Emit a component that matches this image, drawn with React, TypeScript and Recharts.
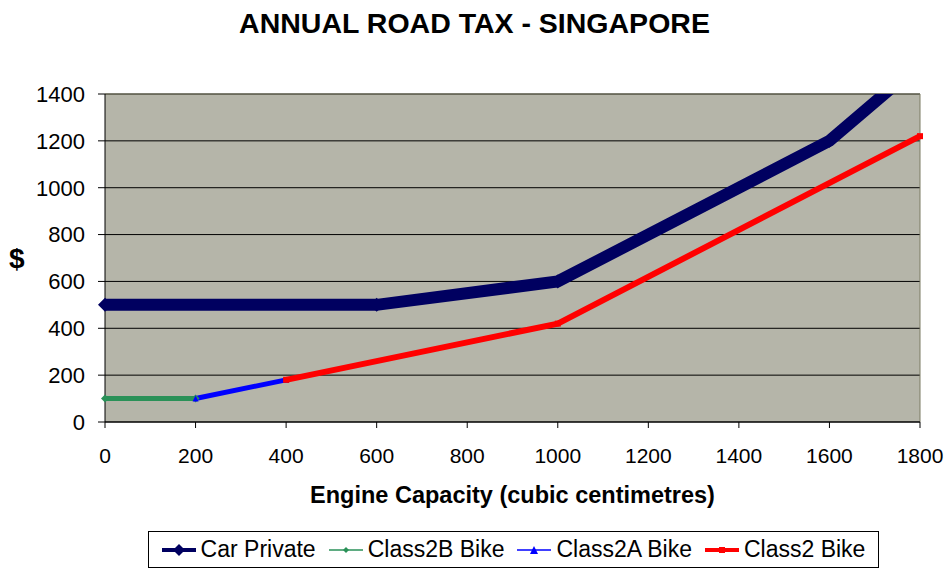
import React from 'react';
import { ComposedChart, Line, Scatter, XAxis, YAxis, CartesianGrid, ReferenceLine } from 'recharts';

// engine capacity (cc) and annual tax ($)
const carCc = [0, 600, 1000, 1600, 1800];
const carTax = [500, 500, 600, 1200, 1530];
const class2bCc = [0, 200];
const class2bTax = [100, 100];
const class2aCc = [200, 400];
const class2aTax = [100, 180];
const class2Cc = [400, 1000, 1800];
const class2Tax = [180, 420, 1220];

const xTicks = [0, 200, 400, 600, 800, 1000, 1200, 1400, 1600, 1800];
const yTicks = [0, 200, 400, 600, 800, 1000, 1200, 1400];

const FONT = '"Liberation Sans", Arial, sans-serif';
const NAVY = '#000060';
const GREEN = '#2A9158';
const BLUE = '#0000FF';
const RED = '#FF0000';
const PLOT_BG = '#B5B5A9';
const BORDER = '#7A7A62';

const toPoints = (xs: number[], ys: number[]) => xs.map((cc, i) => ({ cc, tax: ys[i] }));

const carData = toPoints(carCc, carTax);
const carMarkers = carData.filter((d) => d.tax <= 1400);
const class2bData = toPoints(class2bCc, class2bTax);
const class2aData = toPoints(class2aCc, class2aTax);
const class2Data = toPoints(class2Cc, class2Tax);

const diamond = (r: number, fill: string) => (props: any) => {
  const { cx, cy, key } = props;
  if (cx == null || cy == null) return <g key={key} />;
  return <polygon key={key} points={`${cx - r},${cy} ${cx},${cy - r} ${cx + r},${cy} ${cx},${cy + r}`} fill={fill} />;
};

const triangle = (r: number, fill: string) => (props: any) => {
  const { cx, cy, key } = props;
  if (cx == null || cy == null) return <g key={key} />;
  return <polygon key={key} points={`${cx - r},${cy + r} ${cx},${cy - r} ${cx + r},${cy + r}`} fill={fill} />;
};

const square = (r: number, fill: string) => (props: any) => {
  const { cx, cy, key } = props;
  if (cx == null || cy == null) return <g key={key} />;
  return <rect key={key} x={cx - r} y={cy - r} width={r * 2} height={r * 2} fill={fill} />;
};

const legendItems = [
  { name: 'Car Private', color: NAVY, width: 4, marker: 'diamond', size: 6 },
  { name: 'Class2B Bike', color: GREEN, width: 1.5, marker: 'diamond', size: 3 },
  { name: 'Class2A Bike', color: BLUE, width: 1.5, marker: 'triangle', size: 4 },
  { name: 'Class2 Bike', color: RED, width: 4, marker: 'square', size: 3 },
];

function LegendIcon({ color, width, marker, size }: { color: string; width: number; marker: string; size: number }) {
  const cx = 17;
  const cy = 10;
  return (
    <svg width={34} height={20} style={{ display: 'block' }}>
      <line x1={0} y1={cy} x2={34} y2={cy} stroke={color} strokeWidth={width} />
      {marker === 'diamond' && (
        <polygon points={`${cx - size},${cy} ${cx},${cy - size} ${cx + size},${cy} ${cx},${cy + size}`} fill={color} />
      )}
      {marker === 'triangle' && (
        <polygon points={`${cx - size},${cy + size} ${cx},${cy - size} ${cx + size},${cy + size}`} fill={color} />
      )}
      {marker === 'square' && <rect x={cx - size} y={cy - size} width={size * 2} height={size * 2} fill={color} />}
    </svg>
  );
}

export default function App() {
  return (
    <div style={{ position: 'absolute', left: 0, top: 0, width: 949, height: 578, background: '#fff', fontFamily: FONT }}>
      <div
        style={{
          position: 'absolute',
          left: 0,
          width: 949,
          top: 7,
          textAlign: 'center',
          fontSize: 28.5,
          fontWeight: 'bold',
          color: '#000',
        }}
      >
        ANNUAL ROAD TAX - SINGAPORE
      </div>

      <ComposedChart width={949} height={578} margin={{ top: 94, right: 29, bottom: 66, left: 0 }}>
        <CartesianGrid yAxisId="main" vertical={false} stroke="#000" fill={PLOT_BG} fillOpacity={1} horizontalValues={yTicks} />
        <XAxis
          dataKey="cc"
          type="number"
          domain={[0, 1800]}
          ticks={xTicks}
          interval={0}
          height={90}
          tickSize={6}
          tickMargin={20}
          axisLine={{ stroke: '#000' }}
          tickLine={{ stroke: '#000' }}
          tick={{ fill: '#000', fontSize: 21, fontFamily: FONT }}
          label={{
            value: 'Engine Capacity (cubic centimetres)',
            position: 'insideTop',
            offset: 64,
            fill: '#000',
            fontSize: 23.5,
            fontWeight: 'bold',
            fontFamily: FONT,
          }}
        />
        <YAxis
          yAxisId="main"
          type="number"
          domain={[0, 1400]}
          ticks={yTicks}
          interval={0}
          width={105}
          tickSize={7}
          tickMargin={13}
          axisLine={{ stroke: '#000' }}
          tickLine={{ stroke: '#000' }}
          tick={{ fill: '#000', fontSize: 22, fontFamily: FONT }}
          label={{ value: '$', position: 'insideLeft', offset: 9, fill: '#000', fontSize: 28, fontWeight: 'bold', fontFamily: FONT }}
        />
        <YAxis yAxisId="clip" orientation="right" width={0} type="number" domain={[0, 1400]} allowDataOverflow hide />
        <ReferenceLine yAxisId="main" y={1400} stroke={BORDER} strokeWidth={1} />
        <ReferenceLine yAxisId="main" x={1800} stroke={BORDER} strokeWidth={1} />

        <Line
          yAxisId="clip"
          data={carData}
          dataKey="tax"
          name="Car Private"
          stroke={NAVY}
          strokeWidth={12}
          dot={false}
          activeDot={false}
          isAnimationActive={false}
        />
        <Scatter
          yAxisId="main"
          data={carMarkers}
          dataKey="tax"
          fill={NAVY}
          shape={diamond(7, NAVY)}
          isAnimationActive={false}
        />
        <Line
          yAxisId="main"
          data={class2bData}
          dataKey="tax"
          name="Class2B Bike"
          stroke={GREEN}
          strokeWidth={5}
          dot={diamond(4, GREEN)}
          activeDot={false}
          isAnimationActive={false}
        />
        <Line
          yAxisId="main"
          data={class2aData}
          dataKey="tax"
          name="Class2A Bike"
          stroke={BLUE}
          strokeWidth={5}
          dot={triangle(3, BLUE)}
          activeDot={false}
          isAnimationActive={false}
        />
        <Line
          yAxisId="main"
          data={class2Data}
          dataKey="tax"
          name="Class2 Bike"
          stroke={RED}
          strokeWidth={6}
          dot={square(3, RED)}
          activeDot={false}
          isAnimationActive={false}
        />
      </ComposedChart>

      <div
        style={{
          position: 'absolute',
          left: 148,
          top: 531,
          width: 729,
          height: 35,
          border: '1px solid #000',
          display: 'flex',
          alignItems: 'center',
          justifyContent: 'center',
          fontSize: 23,
          color: '#000',
        }}
      >
        {legendItems.map((it, i) => (
          <div key={it.name} style={{ display: 'flex', alignItems: 'center', marginLeft: i === 0 ? 0 : 13 }}>
            <LegendIcon color={it.color} width={it.width} marker={it.marker} size={it.size} />
            <span style={{ marginLeft: 5, whiteSpace: 'nowrap' }}>{it.name}</span>
          </div>
        ))}
      </div>
    </div>
  );
}
